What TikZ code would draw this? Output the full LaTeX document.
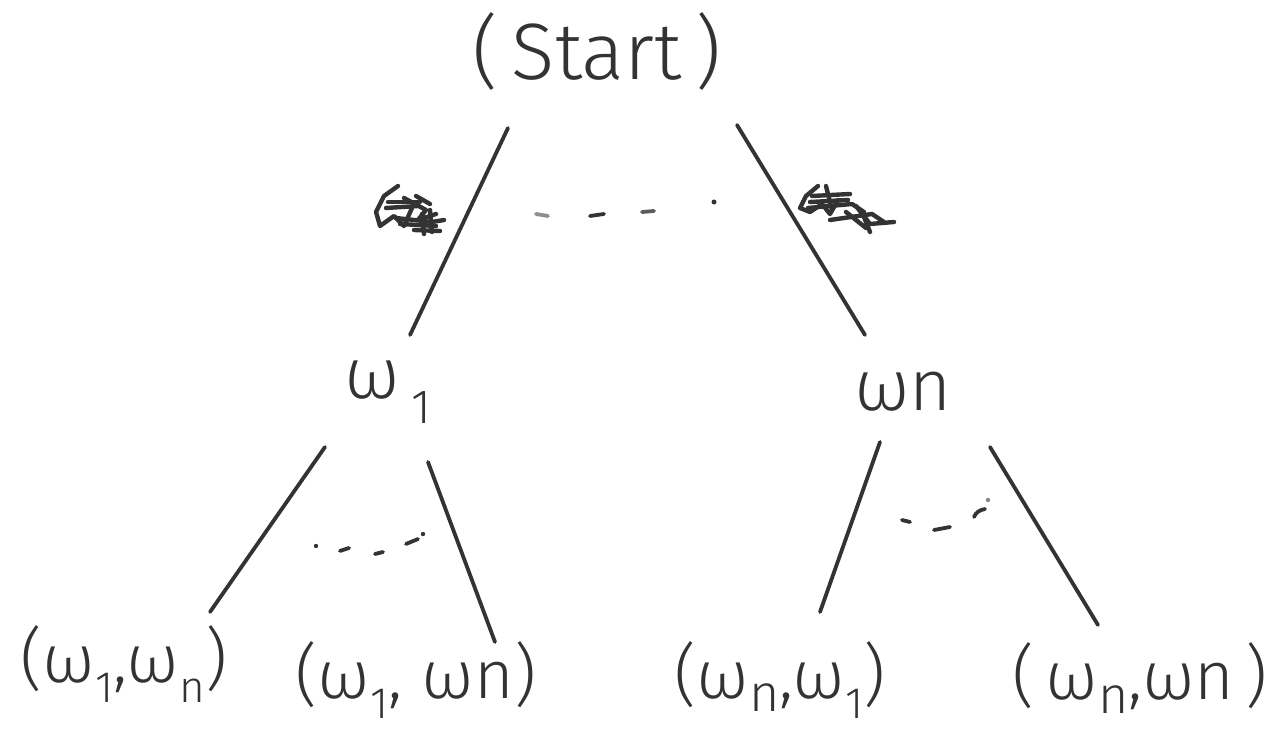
\documentclass[tikz,border=0pt]{standalone}
\usepackage{fontspec}
\setmainfont{Fira Sans Light}
\definecolor{ink}{HTML}{333333}
\begin{document}
\begin{tikzpicture}[x=0.5pt,y=-0.5pt,
  pen/.style={draw=ink,line width=1.9pt,line cap=round,line join=round},
  big/.style={text=ink,inner sep=0pt,font=\fontsize{40}{44}\selectfont},
  mid/.style={text=ink,inner sep=0pt,font=\fontsize{36}{40}\selectfont},
  leaf/.style={text=ink,inner sep=0pt,font=\fontsize{34}{38}\selectfont}]
\useasboundingbox (0,0) rectangle (1287,731);

% nodes
\node[big] (start) at (597,52) {(\,Start\,)};
\node[mid] (w1) at (388,392) {ω\,\raisebox{-0.35em}{\fontsize{24}{26}\selectfont 1}};
\node[mid] (wn) at (903,392) {ωn};
\node[leaf] (a) at (124,664) {(ω\raisebox{-0.3em}{\fontsize{22}{24}\selectfont 1},ω\raisebox{-0.3em}{\fontsize{22}{24}\selectfont n})};
\node[leaf] (b) at (416,680) {(ω\raisebox{-0.3em}{\fontsize{22}{24}\selectfont 1}, ωn)};
\node[leaf] (c) at (780,680) {(ω\raisebox{-0.2em}{\fontsize{26}{28}\selectfont n},ω\raisebox{-0.3em}{\fontsize{22}{24}\selectfont 1})};
\node[leaf] (d) at (1140,678) {(\,ω\raisebox{-0.2em}{\fontsize{26}{28}\selectfont n},ωn\,)};

% edge end points
\coordinate (s1) at (508,128);  \coordinate (e1) at (410,335);
\coordinate (s2) at (737,125);  \coordinate (e2) at (865,335);
\coordinate (s3) at (325,447);  \coordinate (e3) at (210,612);
\coordinate (s4) at (428,462);  \coordinate (e4) at (495,642);
\coordinate (s5) at (880,442);  \coordinate (e5) at (820,612);
\coordinate (s6) at (990,447);  \coordinate (e6) at (1098,625);

\draw[pen] (s1) -- (e1);
\draw[pen] (s2) -- (e2);
\draw[pen] (s3) -- (e3);
\draw[pen] (s4) -- (e4);
\draw[pen] (s5) -- (e5);
\draw[pen] (s6) -- (e6);

% ellipses between branches
\draw[pen,opacity=0.55] (536,214) -- (548,216);
\draw[pen] (590,216) -- (604,214);
\draw[pen,opacity=0.8] (642,212) -- (654,211);
\fill[ink] (714,202) circle (2.5);
\fill[ink] (316,546) circle (2.2);
\draw[pen] (340,551) -- (349,548);
\draw[pen] (375,554) -- (383,552);
\draw[pen] (406,544) -- (418,539);
\fill[ink] (423,534) circle (2.2);
\draw[pen] (902,520) -- (910,522);
\draw[pen] (934,530) -- (950,527);
\draw[pen] (974,517) .. controls (976,512) and (980,510) .. (985,509);
\fill[ink,opacity=0.6] (988,500) circle (2.2);

% struck-out edge labels
\begin{scope}[pen,line width=2.2pt]
  \draw (398,186) -- (384,196) -- (376,212) -- (380,226) -- (394,216) -- (404,226) -- (412,208);
  \draw (388,202) -- (420,202);
  \draw (386,208) -- (418,206);
  \draw (404,198) -- (426,210) -- (418,220) -- (436,214);
  \draw (396,218) -- (432,222) -- (444,220);
  \draw (400,224) -- (436,226);
  \draw (414,230) -- (440,231);
  \draw (422,214) -- (424,234);
  \draw (430,210) -- (432,232);
  \draw (416,196) -- (430,204);
\end{scope}
\begin{scope}[pen,line width=2.2pt]
  \draw (818,186) -- (806,196) -- (800,208) -- (810,212) -- (822,204) -- (830,214) -- (838,200);
  \draw (812,196) -- (850,194);
  \draw (810,202) -- (848,200);
  \draw (826,186) -- (832,210);
  \draw (808,208) -- (852,204) -- (864,212);
  \draw (830,220) -- (872,214) -- (884,222);
  \draw (856,206) -- (870,224) -- (894,222);
  \draw (846,212) -- (866,228);
  \draw (862,212) -- (870,232);
\end{scope}
\end{tikzpicture}
\end{document}
